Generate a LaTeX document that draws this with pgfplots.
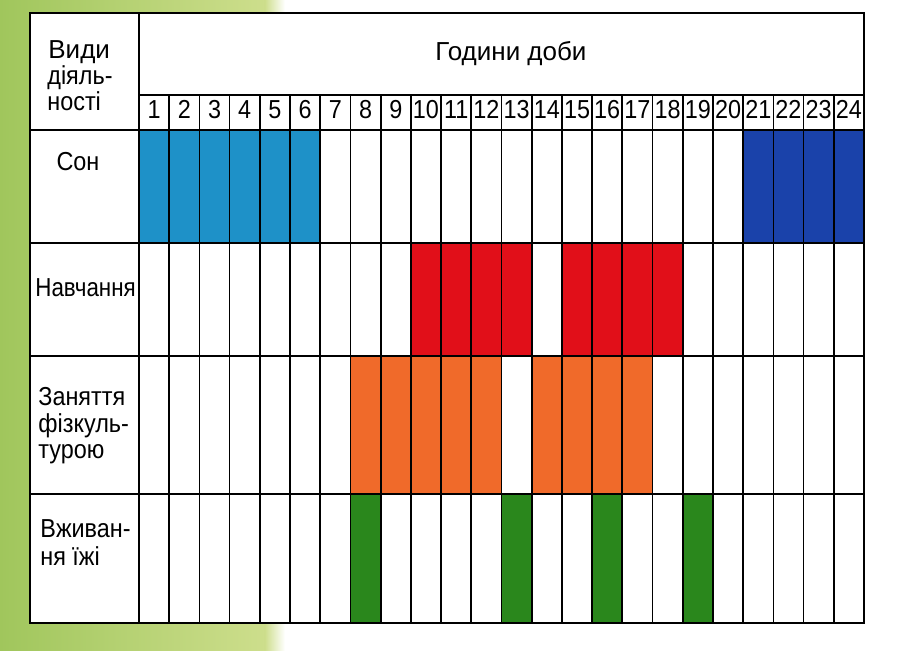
\documentclass[border=0pt]{standalone}
\usepackage{fontspec}
\setmainfont{Liberation Sans}
\newfontfamily\cond{Liberation Sans}[FakeStretch=0.9]
\newfontfamily\condd{Liberation Sans}[FakeStretch=0.86]
\usepackage{pgfplots}
\pgfplotsset{compat=1.18}
\definecolor{sleepA}{RGB}{30,145,200}
\definecolor{sleepB}{RGB}{26,66,170}
\definecolor{studyC}{RGB}{225,15,25}
\definecolor{sportC}{RGB}{240,106,42}
\definecolor{foodC}{RGB}{42,135,28}
\definecolor{bgA}{RGB}{160,198,92}
\definecolor{bgB}{RGB}{205,222,140}
\begin{document}
\begin{tikzpicture}
\begin{axis}[
  scale only axis, width=450pt, height=325pt,
  xmin=-4.601, xmax=25.192, ymin=0, ymax=650, y dir=reverse,
  hide axis, clip=false,
]
% page background
\fill[white] (axis cs:-4.601,0) rectangle (axis cs:25.192,650);
\shade[left color=bgA, right color=bgB] (axis cs:-4.601,0) rectangle (axis cs:4.17,650);
\shade[left color=bgB, right color=white] (axis cs:4.17,0) rectangle (axis cs:4.83,650);
% table cells background
\fill[white] (axis cs:-3.608,13) rectangle (axis cs:24,623);
% Сон: hours 1-6 and 21-24
\addplot[fill=sleepA, draw=none] coordinates {(0,130) (6,130) (6,243) (0,243)} --cycle;
\addplot[fill=sleepB, draw=none] coordinates {(20,130) (24,130) (24,243) (20,243)} --cycle;
% Навчання: hours 10-13 and 15-18
\addplot[fill=studyC, draw=none] coordinates {(9,243) (13,243) (13,356) (9,356)} --cycle;
\addplot[fill=studyC, draw=none] coordinates {(14,243) (18,243) (18,356) (14,356)} --cycle;
% Заняття фізкультурою: hours 8-12 and 14-17
\addplot[fill=sportC, draw=none] coordinates {(7,356) (12,356) (12,494) (7,494)} --cycle;
\addplot[fill=sportC, draw=none] coordinates {(13,356) (17,356) (17,494) (13,494)} --cycle;
% Вживання їжі: hours 8, 13, 16, 19
\addplot[fill=foodC, draw=none] coordinates {(7,494) (8,494) (8,623) (7,623)} --cycle;
\addplot[fill=foodC, draw=none] coordinates {(12,494) (13,494) (13,623) (12,623)} --cycle;
\addplot[fill=foodC, draw=none] coordinates {(15,494) (16,494) (16,623) (15,623)} --cycle;
\addplot[fill=foodC, draw=none] coordinates {(18,494) (19,494) (19,623) (18,623)} --cycle;
% grid lines
\pgfplotsinvokeforeach{1,...,23}{\draw[line width=0.85pt] (axis cs:#1,95) -- (axis cs:#1,623);}
\draw[line width=0.85pt] (axis cs:0,13) -- (axis cs:0,623);
\draw[line width=0.85pt] (axis cs:0,95) -- (axis cs:24,95);
\draw[line width=0.85pt] (axis cs:-3.608,130) -- (axis cs:24,130);
\draw[line width=0.85pt] (axis cs:-3.608,243) -- (axis cs:24,243);
\draw[line width=0.85pt] (axis cs:-3.608,356) -- (axis cs:24,356);
\draw[line width=0.85pt] (axis cs:-3.608,494) -- (axis cs:24,494);
\draw[line width=1.1pt] (axis cs:-3.608,13) rectangle (axis cs:24,623);
% hour numbers
\pgfplotsinvokeforeach{1,...,24}{\node[anchor=base, inner sep=0pt, xshift=-7.55pt, font=\cond\fontsize{13}{13}\selectfont] at (axis cs:#1,118) {#1};}
% texts
\node[anchor=base, inner sep=0pt, font=\fontsize{13}{13}\selectfont] at (axis cs:12.315,60) {Години доби};
\tikzset{lab/.style={anchor=base west, inner sep=0pt, font=\cond\fontsize{13}{13}\selectfont}}
\node[lab, font=\fontsize{13}{13}\selectfont, xshift=24pt] at (axis cs:-4.601,58) {Види};
\node[lab, xshift=23.5pt] at (axis cs:-4.601,84) {діяль-};
\node[lab, xshift=23.5pt] at (axis cs:-4.601,110) {ності};
\node[anchor=base, inner sep=0pt, font=\cond\fontsize{13}{13}\selectfont] at (axis cs:-2.019,170) {Сон};
\node[lab, font=\condd\fontsize{13}{13}\selectfont, xshift=17.5pt] at (axis cs:-4.601,296) {Навчання};
\node[lab, xshift=19pt] at (axis cs:-4.601,405) {Заняття};
\node[lab, xshift=19pt] at (axis cs:-4.601,432) {фізкуль-};
\node[lab, xshift=19pt] at (axis cs:-4.601,458) {турою};
\node[lab, xshift=20pt] at (axis cs:-4.601,537) {Вживан-};
\node[lab, xshift=20pt] at (axis cs:-4.601,565) {ня їжі};
\end{axis}
\end{tikzpicture}
\end{document}
